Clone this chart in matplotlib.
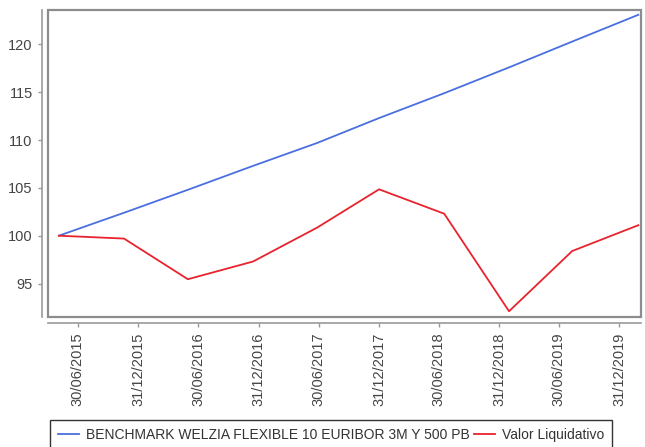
import pandas as pd
import matplotlib
matplotlib.use("Agg")
import matplotlib.pyplot as plt
import matplotlib.dates as mdates
from matplotlib.patches import Rectangle

plt.rcParams['font.family'] = ['Liberation Sans', 'DejaVu Sans']

# --- datos ---
fechas = ["2015-05-03", "2015-11-17", "2016-05-29", "2016-12-13", "2017-06-26",
          "2017-12-31", "2018-07-17", "2019-01-30", "2019-08-10", "2020-02-27"]
benchmark = [100.0, 102.4, 104.8, 107.3, 109.7, 112.3, 114.9, 117.6, 120.3, 123.1]
valor_liq = [100.0, 99.7, 95.45, 97.3, 100.85, 104.85, 102.3, 92.1, 98.4, 101.1]
tick_fechas = ["2015-06-30", "2015-12-31", "2016-06-30", "2016-12-31", "2017-06-30",
               "2017-12-31", "2018-06-30", "2018-12-31", "2019-06-30", "2019-12-31"]
nombre_bench = "BENCHMARK WELZIA FLEXIBLE 10 EURIBOR 3M Y 500 PB"
nombre_vl = "Valor Liquidativo"

x = pd.to_datetime(fechas)
xt = pd.to_datetime(tick_fechas)

W, H = 645, 447
fig = plt.figure(figsize=(W / 100, H / 100), dpi=100)
ax = fig.add_axes([48 / W, (H - 317) / H, (641 - 48) / W, (317 - 10) / H])

ax.plot(x, benchmark, color='#4a6fe0', lw=1.3, label=nombre_bench)
ax.plot(x, valor_liq, color='#e8232d', lw=1.3, label=nombre_vl)

ax.set_xlim(pd.Timestamp("2015-03-31"), pd.Timestamp("2020-03-06"))
ax.set_ylim(91.5, 123.6)
ax.set_yticks([95, 100, 105, 110, 115, 120])
ax.set_xticks(xt)
ax.xaxis.set_major_formatter(mdates.DateFormatter("%d/%m/%Y"))

# ejes desplazados como en JFreeChart
for s in ['top', 'right']:
    ax.spines[s].set_visible(False)
for s in ['left', 'bottom']:
    ax.spines[s].set_position(('outward', 4))
    ax.spines[s].set_color('#999999')
    ax.spines[s].set_linewidth(1.2)
ax.add_patch(Rectangle((0, 0), 1, 1, transform=ax.transAxes, fill=False,
                       edgecolor='#8c8c8c', lw=1.6, clip_on=False, zorder=5))

ax.tick_params(axis='both', colors='#999999', length=3, width=1,
               labelcolor='#444444', labelsize=10.5)
ax.tick_params(axis='x', labelrotation=90, pad=4)
ax.tick_params(axis='y', pad=4)

leg = fig.legend(loc='upper center', bbox_to_anchor=(331 / W, 1 - 420 / H), ncol=2,
                 fontsize=10, frameon=True, fancybox=False, handlelength=1.5,
                 handletextpad=0.5, columnspacing=0.3, borderpad=0.55,
                 borderaxespad=0)
leg.get_frame().set_edgecolor('black')
leg.get_frame().set_linewidth(1.0)
for t in leg.get_texts():
    t.set_color('#333333')

fig.savefig("out.png", dpi=100)
